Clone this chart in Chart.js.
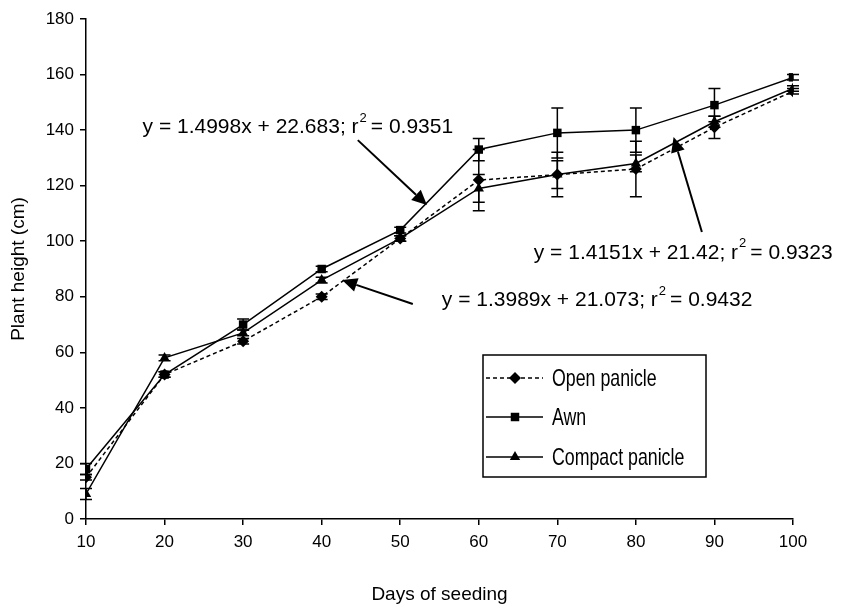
<!DOCTYPE html>
<html>
<head>
<meta charset="utf-8">
<script src="https://cdn.jsdelivr.net/npm/chart.js@4.4.0/dist/chart.umd.min.js"></script>
<style>
  html, body { margin: 0; padding: 0; background: #fff; }
  #wrap { width: 841px; height: 610px; }
</style>
</head>
<body>
<div id="wrap"><canvas id="plantChart" width="841" height="610"></canvas></div>
<script>
// days after seeding
const days = [10, 20, 30, 40, 50, 60, 70, 80, 90, 100];

// plant height (cm)
const openPanicle = [15, 52, 64, 80, 101, 122, 124, 126, 141, 154];
const awn = [18, 52, 70, 90, 104, 133, 139, 140, 149, 159];
const compactPanicle = [9, 58, 67, 86, 101, 119, 124, 128, 143, 155];

// error bar half-lengths
const openErr = [1, 1, 1, 1, 1, 11, 5, 10, 4, 1];
const awnErr = [2, 1, 2, 1, 1, 4, 9, 8, 6, 1];
const compactErr = [2, 1, 1, 1, 1, 5, 8, 3, 2, 1];

const yTicks = [0, 20, 40, 60, 80, 100, 120, 140, 160, 180];

// regression notes: text, anchor (data units), arrow tail and tip (data units)
const notes = [
    { eq: 'y = 1.4998x + 22.683; r', r2: '= 0.9351', at: [17.2, 141], tail: [44.6, 136.4], tip: [53.4, 113] },
    { eq: 'y = 1.4151x + 21.42; r', r2: '= 0.9323', at: [67.0, 95.8], tail: [88.4, 103.3], tip: [84.8, 137.5] },
    { eq: 'y = 1.3989x + 21.073; r', r2: '= 0.9432', at: [55.3, 78.8], tail: [51.6, 77.4], tip: [42.6, 86] }
];

const FONT = "Arial, 'Liberation Sans', sans-serif";

function toPoints(ys) {
    return days.map((d, i) => ({ x: d, y: ys[i] }));
}

const errors = [openErr, awnErr, compactErr];

const errorBars = {
    id: 'errorBars',
    beforeDatasetsDraw(chart) {
        const ctx = chart.ctx;
        const xs = chart.scales.x, ys = chart.scales.y;
        ctx.save();
        ctx.strokeStyle = '#000';
        ctx.lineWidth = 1.5;
        chart.data.datasets.forEach((ds, di) => {
            ds.data.forEach((p, i) => {
                const e = errors[di][i];
                const px = xs.getPixelForValue(p.x);
                const top = ys.getPixelForValue(p.y + e);
                const bot = ys.getPixelForValue(p.y - e);
                ctx.beginPath();
                ctx.moveTo(px, top); ctx.lineTo(px, bot);
                ctx.moveTo(px - 6, top); ctx.lineTo(px + 6, top);
                ctx.moveTo(px - 6, bot); ctx.lineTo(px + 6, bot);
                ctx.stroke();
            });
        });
        ctx.restore();
    }
};

function drawArrow(ctx, x1, y1, x2, y2) {
    const ang = Math.atan2(y2 - y1, x2 - x1);
    const len = 15, half = 7;
    const bx = x2 - len * Math.cos(ang), by = y2 - len * Math.sin(ang);
    ctx.beginPath();
    ctx.moveTo(x1, y1); ctx.lineTo(bx, by);
    ctx.stroke();
    ctx.beginPath();
    ctx.moveTo(x2, y2);
    ctx.lineTo(bx + half * Math.sin(ang), by - half * Math.cos(ang));
    ctx.lineTo(bx - half * Math.sin(ang), by + half * Math.cos(ang));
    ctx.closePath();
    ctx.fill();
}

// squeezed text, the legend uses a narrow face
function narrowText(ctx, text, x, y, size, sx) {
    ctx.save();
    ctx.translate(x, y);
    ctx.scale(sx, 1);
    ctx.font = size + 'px ' + FONT;
    ctx.textBaseline = 'middle';
    ctx.textAlign = 'left';
    ctx.fillText(text, 0, 0);
    ctx.restore();
}

const annotations = {
    id: 'annotations',
    afterDraw(chart) {
        const ctx = chart.ctx;
        const xs = chart.scales.x, ys = chart.scales.y;
        ctx.save();
        ctx.fillStyle = '#000';
        ctx.strokeStyle = '#000';
        ctx.lineWidth = 2;
        notes.forEach(n => {
            const x = xs.getPixelForValue(n.at[0]);
            const y = ys.getPixelForValue(n.at[1]);
            ctx.font = '21px ' + FONT;
            ctx.textBaseline = 'middle';
            ctx.textAlign = 'left';
            ctx.fillText(n.eq, x, y);
            let w = ctx.measureText(n.eq).width;
            ctx.font = '13px ' + FONT;
            ctx.fillText('2', x + w + 1, y - 9);
            w += ctx.measureText('2').width + 5;
            ctx.font = '21px ' + FONT;
            ctx.fillText(n.r2, x + w, y);
            drawArrow(ctx, xs.getPixelForValue(n.tail[0]), ys.getPixelForValue(n.tail[1]),
                xs.getPixelForValue(n.tip[0]), ys.getPixelForValue(n.tip[1]));
        });

        // legend box
        const lx = 483, ly = 355, lw = 223, lh = 122;
        ctx.lineWidth = 1.5;
        ctx.strokeRect(lx, ly, lw, lh);
        const rows = [378, 417, 457];
        chart.data.datasets.forEach((ds, i) => {
            const ry = rows[i];
            ctx.save();
            ctx.lineWidth = 1.5;
            ctx.setLineDash(ds.borderDash || []);
            ctx.beginPath();
            ctx.moveTo(lx + 3, ry); ctx.lineTo(lx + 60, ry);
            ctx.stroke();
            ctx.restore();
            Chart.helpers.drawPoint(ctx, {
                pointStyle: ds.pointStyle, radius: ds.pointRadius, rotation: 0, borderWidth: 0
            }, lx + 32, ry);
            narrowText(ctx, ds.label, lx + 69, ry + 1, 24, 0.74);
        });
        ctx.restore();
    }
};

const baseSet = {
    borderColor: '#000',
    backgroundColor: '#000',
    pointBackgroundColor: '#000',
    pointBorderColor: '#000',
    pointBorderWidth: 0,
    borderWidth: 1.5,
    tension: 0,
    fill: false
};

new Chart(document.getElementById('plantChart').getContext('2d'), {
    type: 'line',
    data: {
        datasets: [
            Object.assign({}, baseSet, { label: 'Open panicle', data: toPoints(openPanicle), borderDash: [4, 3], pointStyle: 'rectRot', pointRadius: 6 }),
            Object.assign({}, baseSet, { label: 'Awn', data: toPoints(awn), pointStyle: 'rect', pointRadius: 6 }),
            Object.assign({}, baseSet, { label: 'Compact panicle', data: toPoints(compactPanicle), pointStyle: 'triangle', pointRadius: 6 })
        ]
    },
    options: {
        responsive: false,
        animation: false,
        layout: { padding: { top: 19, right: 48, left: 0, bottom: 0 } },
        plugins: { legend: { display: false }, tooltip: { enabled: false } },
        scales: {
            x: {
                type: 'linear', min: 10, max: 100,
                afterBuildTicks: s => { s.ticks = days.map(v => ({ value: v })); },
                afterFit: s => { s.height = 91; },
                ticks: { color: '#000', font: { family: FONT, size: 17 }, padding: 7 },
                grid: { drawOnChartArea: false, tickLength: 6, color: '#000', lineWidth: 1.5 },
                border: { color: '#000', width: 1.5 },
                title: { display: true, text: 'Days of seeding', color: '#000', font: { family: FONT, size: 19 }, padding: { top: 0, bottom: 4 } }
            },
            y: {
                type: 'linear', min: 0, max: 180,
                afterBuildTicks: s => { s.ticks = yTicks.map(v => ({ value: v })); },
                afterFit: s => { s.width = 86; },
                ticks: { color: '#000', font: { family: FONT, size: 17 }, padding: 6 },
                grid: { drawOnChartArea: false, tickLength: 6, color: '#000', lineWidth: 1.5 },
                border: { color: '#000', width: 1.5 },
                title: { display: true, text: 'Plant height (cm)', color: '#000', font: { family: FONT, size: 19 }, padding: { top: 7, bottom: 0 } }
            }
        }
    },
    plugins: [errorBars, annotations]
});
</script>
</body>
</html>
